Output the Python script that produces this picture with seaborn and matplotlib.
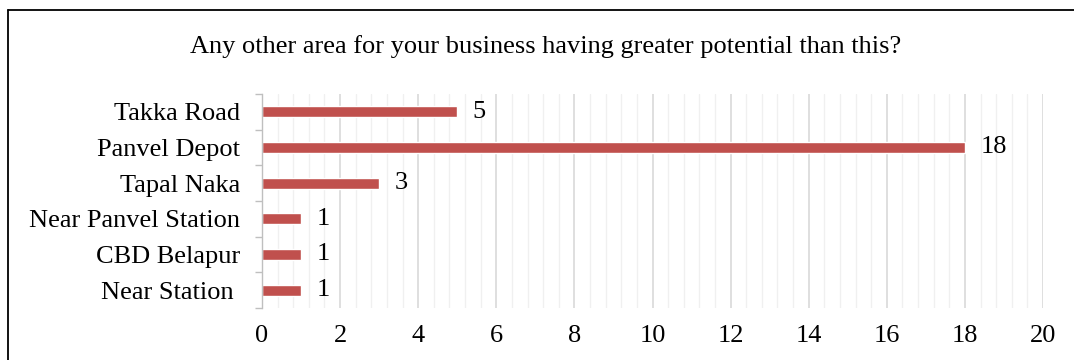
import matplotlib
matplotlib.use("Agg")
import matplotlib.pyplot as plt
import seaborn as sns
import pandas as pd
import numpy as np
from matplotlib.lines import Line2D
from matplotlib.ticker import MultipleLocator

categories = ["Takka Road", "Panvel Depot", "Tapal Naka", "Near Panvel Station", "CBD Belapur", "Near Station "]
values = [5, 18, 3, 1, 1, 1]
x_ticks = [0, 2, 4, 6, 8, 10, 12, 14, 16, 18, 20]
title = "Any other area for your business having greater potential than this?"

sns.set_theme(style="white")
plt.rcParams['font.family'] = ['Liberation Serif', 'DejaVu Serif']

df = pd.DataFrame({"area": categories, "count": values})

fig = plt.figure(figsize=(10.74, 3.6), dpi=100)
ax = fig.add_axes([262/1074, 1-308/360, (1043-262)/1074, (308-94)/360])

sns.barplot(data=df, y="area", x="count", orient="h", color="#C0504D",
            saturation=1, width=0.3, ax=ax, order=categories)

ax.set_xlim(0, 20)
ax.set_ylim(len(categories)-0.5, -0.5)
ax.set_xticks(x_ticks)
ax.xaxis.set_minor_locator(MultipleLocator(0.4))
ax.grid(which="major", axis="x", color="#d9d9d9", linewidth=1.2)
ax.grid(which="minor", axis="x", color="#f0f0f0", linewidth=1.0)
ax.set_axisbelow(True)
ax.set_xlabel("")
ax.set_ylabel("")

for s in ["top", "right", "bottom"]:
    ax.spines[s].set_visible(False)
ax.spines["left"].set_color("#bfbfbf")
ax.spines["left"].set_linewidth(1.0)

ax.set_yticks(np.arange(len(categories)))
ax.set_yticklabels(categories)
ax.set_yticks(np.arange(len(categories)+1) - 0.5, minor=True)
fs = 19
ax.tick_params(axis="y", which="major", length=0, pad=16, labelsize=fs, labelcolor="black")
ax.tick_params(axis="y", which="minor", length=5, width=1, color="#bfbfbf", direction="out", left=True)
ax.tick_params(axis="x", which="both", length=0, pad=12, labelsize=fs, labelcolor="black")

for i, v in enumerate(values):
    ax.text(v + 0.4, i, str(v), va="center", ha="left", fontsize=fs, color="black")

fig.text(546/1074, 1-47/360, title, ha="center", va="center", fontsize=fs, color="black")

bx = 8/1074
by = 1 - 9.5/360
fig.lines.append(Line2D([bx, 1.05], [by, by], transform=fig.transFigure, color="black", linewidth=1.3))
fig.lines.append(Line2D([bx, bx], [-0.05, by], transform=fig.transFigure, color="black", linewidth=1.3))

fig.savefig("out.png", dpi=100)
